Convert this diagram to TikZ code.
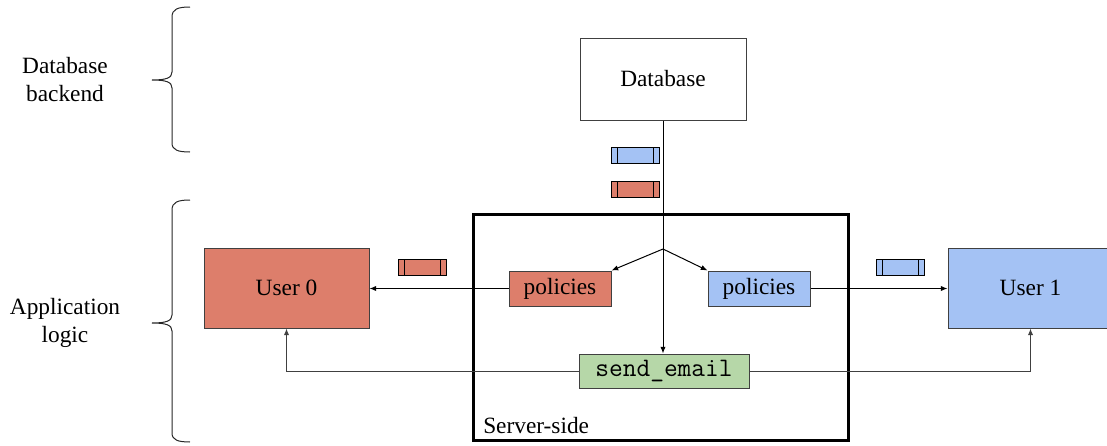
\documentclass[tikz,border=0pt]{standalone}
\usepackage{fontspec}
\setmainfont{Liberation Serif}
\usetikzlibrary{arrows.meta}
\definecolor{redfill}{HTML}{DD7E6B}
\definecolor{bluefill}{HTML}{A4C2F4}
\definecolor{greenfill}{HTML}{B6D7A8}
\definecolor{edgegray}{HTML}{404040}
\tikzset{
  txt/.style={font=\fontsize{17.5}{21}\selectfont},
  box/.style={draw=edgegray, line width=0.75pt, inner sep=0pt, txt},
  arr/.style={line width=0.75pt, -{Latex[length=5pt,width=4pt]}},
  packet/.style={draw=black, line width=0.75pt, minimum width=36pt, minimum height=12pt, inner sep=0pt,
    path picture={
      \draw[line width=0.75pt] ([xshift=4.5pt]path picture bounding box.north west) -- ([xshift=4.5pt]path picture bounding box.south west);
      \draw[line width=0.75pt] ([xshift=-4.5pt]path picture bounding box.north east) -- ([xshift=-4.5pt]path picture bounding box.south east);
    }},
  bracepath/.style={line width=0.75pt, draw=black!85},
}
\begin{document}
\begin{tikzpicture}[x=0.75pt, y=-0.75pt]
\useasboundingbox (0,0) rectangle (1107,446);

% server-side frame
\node[draw=black, line width=2.25pt, minimum width=281.25pt, minimum height=169.5pt] (server) at (660.5,327) {};
\node[txt, anchor=base west, inner sep=0pt] (serverlbl) at (483,433) {Server-side};

% main boxes
\node[box, fill=white, minimum width=124.5pt, minimum height=61.5pt] (db) at (663,79) {Database};
\node[box, fill=redfill, minimum width=76.5pt, minimum height=26.25pt] (polr) at (560,288.5) {policies};
\node[box, fill=bluefill, minimum width=76.5pt, minimum height=26.25pt] (polb) at (759,288.5) {policies};
\node[box, fill=greenfill, minimum width=127.5pt, minimum height=25.5pt, font=\ttfamily\fontsize{20}{24}\selectfont] (send) at (664,371) {send\_email};
\node[box, fill=redfill, minimum width=123.75pt, minimum height=60pt] (u0) at (286.5,288) {User 0};
\node[box, fill=bluefill, minimum width=123.75pt, minimum height=60pt] (u1) at (1030.5,288) {User 1};

% data packets
\node[packet, fill=bluefill] (pk1) at (635.5,155.5) {};
\node[packet, fill=redfill] (pk2) at (635.5,189.5) {};
\node[packet, fill=redfill] (pk3) at (422,267) {};
\node[packet, fill=bluefill] (pk4) at (900,267) {};

% connectors
\coordinate (split) at (663,249);
\draw[line width=0.75pt] (db.south) -- (split);
\draw[arr] (split) -- (polr.north east);
\draw[arr] (split) -- (polb.north west);
\draw[arr] (split) -- (split |- send.north);
\draw[arr] (polr.west) -- (polr.west -| u0.east);
\draw[arr] (polb.east) -- (polb.east -| u1.west);
\draw[arr, draw=edgegray] (send.west) -| (u0.south);
\draw[arr, draw=edgegray] (send.east) -| (u1.south);

% layer braces
\draw[bracepath] (190,7) .. controls (178,7) and (172,9) .. (172,17) -- (172,72)
  .. controls (172,78) and (166,80) .. (152,80)
  .. controls (166,80) and (172,82) .. (172,88) -- (172,143)
  .. controls (172,150) and (178,152) .. (190,152);
\draw[bracepath] (190,200) .. controls (178,200) and (172,202) .. (172,210) -- (172,315)
  .. controls (172,321) and (166,323) .. (152,323)
  .. controls (166,323) and (172,325) .. (172,331) -- (172,433)
  .. controls (172,440) and (178,442) .. (190,442);

% layer labels
\node[txt, align=center, inner sep=0pt] (lbldb) at (65,80) {Database\\backend};
\node[txt, align=center, inner sep=0pt] (lblapp) at (65,323) {Application\\logic};
\end{tikzpicture}
\end{document}
